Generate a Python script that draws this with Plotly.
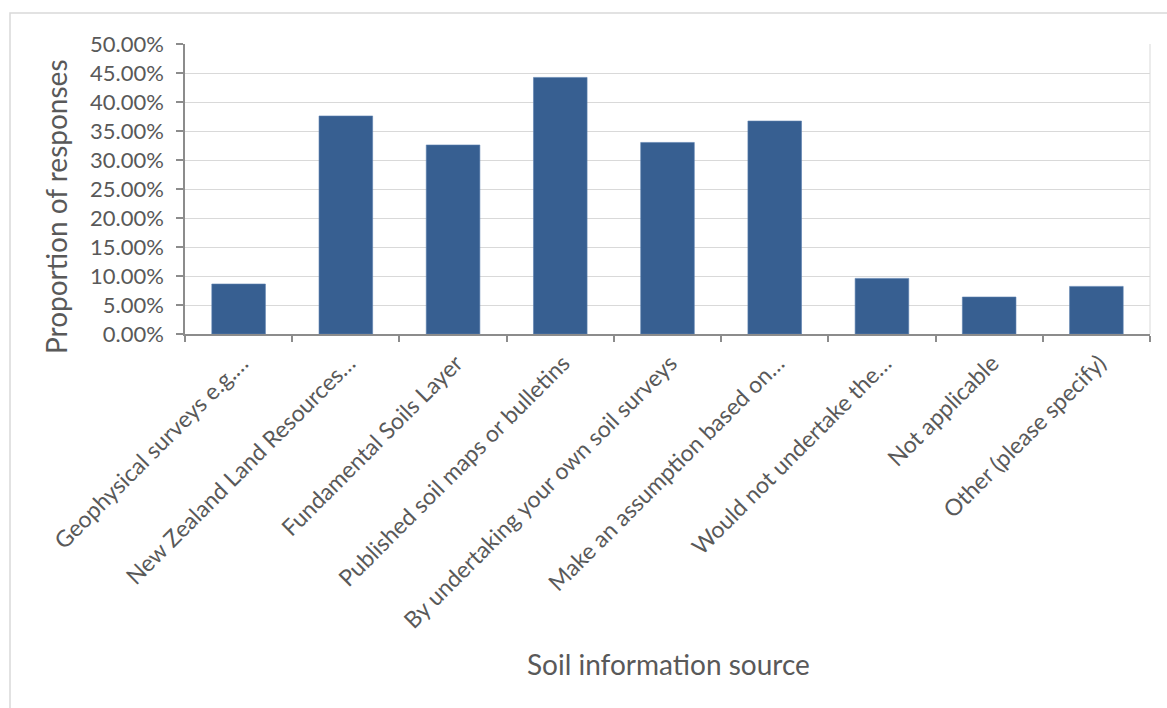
import plotly.graph_objects as go

# Survey responses: where soil information is obtained
categories = [
    "Geophysical surveys e.g.…",
    "New Zealand Land Resources…",
    "Fundamental Soils Layer",
    "Published soil maps or bulletins",
    "By undertaking your own soil surveys",
    "Make an assumption based on…",
    "Would not undertake the…",
    "Not applicable",
    "Other (please specify)",
]
proportions = [0.0862, 0.3759, 0.3259, 0.4424, 0.3303, 0.3672, 0.0959, 0.0638, 0.0821]
y_ticks = [i * 0.05 for i in range(11)]

FONT = "Lato, 'Open Sans', sans-serif"
TEXT = "#595959"
BAR = "#375F91"

W, H = 1167, 708
L, R, T, B = 185, 17, 44, 374
pw, ph = W - L - R, H - T - B


def px_x(p):
    return (p - L) / pw


def px_y(p):
    return (H - B - p) / ph


fig = go.Figure(
    go.Bar(
        x=categories,
        y=proportions,
        marker=dict(color=BAR, line=dict(color="#5a7fae", width=0.6)),
        hovertemplate="%{x}: %{y:.2%}<extra></extra>",
    )
)

fig.update_layout(
    width=W,
    height=H,
    margin=dict(l=L, r=R, t=T, b=B),
    paper_bgcolor="white",
    plot_bgcolor="white",
    bargap=0.5,
    showlegend=False,
    font=dict(family=FONT, color=TEXT),
)

fig.update_xaxes(
    type="category",
    tickangle=-45,
    tickfont=dict(size=23, color=TEXT),
    ticklabelstandoff=5,
    ticklabelshift=3,
    showline=True,
    linecolor="#8c8c8c",
    linewidth=1.5,
    ticks="outside",
    tickson="boundaries",
    ticklen=6,
    tickcolor="#8c8c8c",
    tickwidth=1.5,
    showgrid=False,
    automargin=False,
)

fig.update_yaxes(
    range=[0, 0.5],
    tickvals=y_ticks,
    tickformat=".2%",
    tickfont=dict(size=22, color=TEXT),
    ticklabelstandoff=8,
    showline=True,
    linecolor="#8c8c8c",
    linewidth=1.5,
    ticks="outside",
    ticklen=7,
    tickcolor="#8c8c8c",
    tickwidth=1.5,
    showgrid=True,
    gridcolor="#d9d9d9",
    gridwidth=1,
    zeroline=False,
    automargin=False,
)

# Light border on the right side of the plot area
fig.add_shape(
    type="line", xref="paper", yref="paper",
    x0=1, x1=1, y0=0, y1=1,
    line=dict(color="#e6e6e6", width=1.5),
    layer="below",
)

# Outer chart frame (top and left edges)
fig.add_shape(
    type="path", xref="paper", yref="paper",
    path=(
        f"M {px_x(10)} {px_y(708)} L {px_x(10)} {px_y(13)} "
        f"L {px_x(1167)} {px_y(13)}"
    ),
    line=dict(color="#d9d9d9", width=1.5),
)

# Axis titles
fig.add_annotation(
    text="Proportion of responses",
    xref="paper", yref="paper",
    x=px_x(56), y=px_y(207),
    textangle=-90, showarrow=False,
    font=dict(size=28, color=TEXT, family=FONT),
    xanchor="center", yanchor="middle",
)
fig.add_annotation(
    text="Soil information source",
    xref="paper", yref="paper",
    x=px_x(668), y=px_y(664),
    showarrow=False,
    font=dict(size=28, color=TEXT, family=FONT),
    xanchor="center", yanchor="middle",
)

fig.write_html("out.html")
